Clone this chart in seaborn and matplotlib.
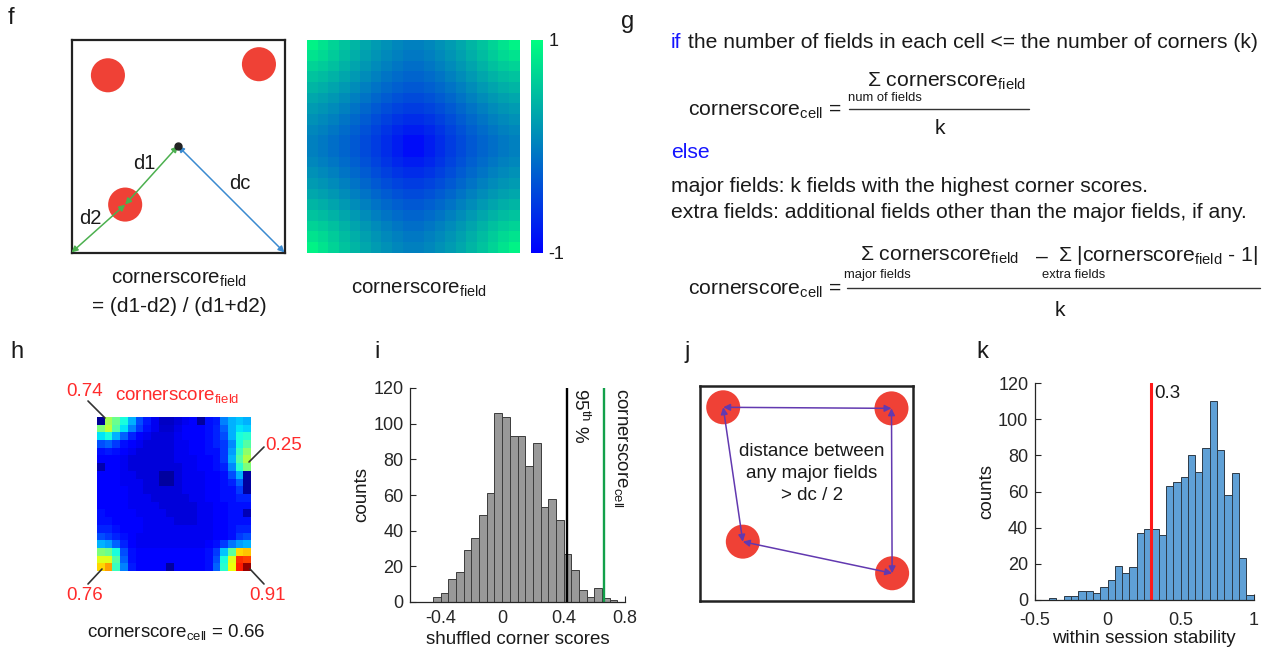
import numpy as np
import pandas as pd
import matplotlib
matplotlib.use("Agg")
import matplotlib.pyplot as plt
import seaborn as sns
from matplotlib.patches import Ellipse

sns.set_style("white")
plt.rcParams["font.family"] = ["Liberation Sans", "DejaVu Sans"]
plt.rcParams["mathtext.fontset"] = "custom"
plt.rcParams["mathtext.rm"] = "Liberation Sans"
plt.rcParams["mathtext.it"] = "Liberation Sans:italic"
plt.rcParams["mathtext.bf"] = "Liberation Sans:bold"
plt.rcParams["mathtext.default"] = "regular"
plt.rcParams["axes.unicode_minus"] = False

# ---------------- data ----------------
# panel f: schematic field positions (axes fraction) and corner-score map size
f_field_x = [0.171, 0.880, 0.252]
f_field_y = [0.832, 0.884, 0.225]
f_center = (0.5, 0.5)
f_grid_n = 20

# panel h: example rate map (jet scale 0-100)
h_map = [
    [2, 55, 48, 38, 30, 20, 15, 10, 6, 6, 8, 10, 12, 3, 14, 15, 25, 30, 32, 30],
    [50, 58, 45, 35, 25, 18, 14, 10, 7, 7, 9, 12, 12, 12, 14, 16, 22, 30, 35, 33],
    [35, 38, 30, 22, 16, 12, 10, 8, 8, 8, 10, 12, 12, 12, 14, 16, 20, 30, 38, 40],
    [20, 22, 18, 14, 12, 10, 8, 8, 8, 8, 10, 10, 12, 12, 14, 16, 18, 26, 38, 45],
    [14, 15, 14, 12, 10, 8, 8, 8, 8, 8, 10, 10, 12, 12, 14, 14, 18, 28, 42, 52],
    [12, 12, 12, 10, 8, 8, 8, 8, 8, 8, 10, 10, 10, 12, 12, 14, 18, 30, 45, 56],
    [4, 12, 12, 10, 8, 8, 8, 8, 8, 8, 8, 10, 10, 12, 12, 14, 16, 26, 40, 50],
    [12, 12, 12, 10, 10, 8, 8, 8, 3, 3, 8, 10, 10, 10, 12, 12, 14, 20, 30, 3],
    [12, 12, 12, 10, 10, 10, 8, 8, 3, 3, 8, 10, 10, 10, 12, 12, 14, 16, 22, 3],
    [12, 12, 12, 12, 10, 10, 8, 8, 8, 8, 8, 10, 10, 10, 12, 12, 14, 14, 18, 3],
    [12, 12, 12, 12, 10, 10, 10, 8, 8, 8, 8, 8, 10, 10, 12, 12, 14, 14, 16, 16],
    [12, 12, 12, 12, 10, 10, 10, 10, 8, 8, 8, 8, 8, 10, 10, 12, 12, 14, 14, 14],
    [14, 12, 12, 12, 12, 10, 10, 10, 10, 8, 8, 8, 8, 10, 10, 12, 12, 14, 14, 5],
    [14, 14, 12, 12, 12, 12, 10, 10, 10, 10, 8, 8, 8, 10, 10, 12, 12, 14, 14, 14],
    [16, 16, 14, 12, 12, 12, 10, 10, 10, 10, 10, 10, 10, 10, 10, 12, 12, 14, 16, 16],
    [20, 18, 16, 14, 12, 10, 10, 10, 10, 10, 10, 10, 10, 10, 10, 12, 12, 14, 18, 20],
    [30, 28, 22, 16, 12, 10, 10, 10, 10, 10, 10, 10, 10, 10, 12, 14, 18, 24, 28, 30],
    [50, 48, 38, 20, 14, 12, 12, 12, 12, 12, 12, 12, 12, 12, 14, 18, 32, 46, 68, 70],
    [62, 62, 45, 22, 14, 12, 12, 12, 12, 12, 12, 12, 12, 12, 14, 20, 38, 62, 86, 84],
    [68, 74, 42, 25, 15, 12, 12, 12, 12, 3, 12, 12, 12, 12, 14, 22, 40, 64, 88, 98],
]
h_labels = ["0.74", "0.25", "0.76", "0.91"]

# panel i: shuffled corner scores histogram
i_bin_start = -0.45
i_bin_width = 0.05
i_counts = [3, 5, 13, 17, 29, 36, 49, 61, 106, 104, 93, 93, 76, 89, 53, 58,
            46, 27, 18, 7, 3, 8, 2, 1]
i_pct95 = 0.42
i_cell_score = 0.66

# panel j: major field positions (axes fraction), order TL, TR, BR, BL
j_field_x = [0.109, 0.899, 0.902, 0.201]
j_field_y = [0.901, 0.896, 0.129, 0.276]

# panel k: within session stability histogram
k_bin_start = -0.40
k_bin_width = 0.05
k_counts = [1, 0, 2, 2, 5, 5, 4, 7, 11, 19, 15, 18, 37, 39, 39, 36, 63, 65, 68,
            80, 71, 84, 110, 83, 58, 70, 23, 3]
k_threshold = 0.3

# ---------------- figure ----------------
W, H = 1268, 649
fig = plt.figure(figsize=(W / 100, H / 100), dpi=100)


def px_axes(x0, y0, x1, y1):
    return fig.add_axes([x0 / W, 1 - y1 / H, (x1 - x0) / W, (y1 - y0) / H])


ov = fig.add_axes([0, 0, 1, 1], zorder=10)
ov.set_xlim(0, W)
ov.set_ylim(H, 0)
ov.axis("off")

RED = "#ef4136"
TXT = "#1a1a1a"
BLUE_T = "#1414ff"

# panel letters
for ch, (x, y) in zip("fghijk", [(8, 18), (621, 22), (10, 352), (374, 352),
                                 (684, 352), (976, 352)]):
    ov.text(x, y, ch, fontsize=17, va="center", ha="left", color=TXT)

# ---- panel f: schematic ----
axf = px_axes(71.5, 39.5, 284.5, 252.5)
axf.set_xlim(0, 1)
axf.set_ylim(0, 1)
axf.set_xticks([])
axf.set_yticks([])
for s in axf.spines.values():
    s.set_visible(True)
    s.set_linewidth(1.6)
    s.set_color("#222222")
for x, y in zip(f_field_x, f_field_y):
    axf.add_patch(Ellipse((x, y), 0.16, 0.16, color=RED, lw=0))
green = "#4cb04f"
blue = "#3b8ad0"
arr = dict(arrowstyle="<|-|>", lw=1.1, mutation_scale=9, shrinkA=0, shrinkB=0)
axf.annotate("", xy=(0.0, 0.0), xytext=(f_field_x[2], f_field_y[2]),
             arrowprops=dict(color=green, **arr))
axf.annotate("", xy=f_center, xytext=(f_field_x[2], f_field_y[2]),
             arrowprops=dict(color=green, **arr))
axf.annotate("", xy=(1.0, 0.0), xytext=f_center,
             arrowprops=dict(color=blue, **arr))
axf.plot(*f_center, "o", color="#222222", ms=5, zorder=5)
axf.text(0.344, 0.417, "d1", fontsize=14.5, ha="center", va="center", color=TXT)
axf.text(0.09, 0.16, "d2", fontsize=14.5, ha="center", va="center", color=TXT)
axf.text(0.79, 0.324, "dc", fontsize=14.5, ha="center", va="center", color=TXT)

ov.text(179, 279, r"cornerscore$_{field}$", fontsize=14.8, ha="center", va="center", color=TXT)
ov.text(179.5, 307, "= (d1-d2) / (d1+d2)", fontsize=15, ha="center", va="center", color=TXT)

# corner score map (the panel's own formula)
c = (np.arange(f_grid_n) + 0.5) / f_grid_n
gx, gy = np.meshgrid(c, c)
d1 = np.hypot(gx - f_center[0], gy - f_center[1])
d2 = np.minimum.reduce([np.hypot(gx - a, gy - b) for a in (0, 1) for b in (0, 1)])
f_map = (d1 - d2) / (d1 + d2)

axfm = px_axes(307, 39.5, 519.5, 252.5)
cax = px_axes(530.5, 39.5, 543, 252.5)
sns.heatmap(f_map, ax=axfm, cmap="winter", vmin=-1, vmax=1, cbar=True, cbar_ax=cax,
            cbar_kws=dict(ticks=[-1, 1]), xticklabels=False, yticklabels=False)
cax.tick_params(length=0, labelsize=13, pad=4, colors=TXT)
cbar = axfm.collections[0].colorbar
if cbar is not None:
    cbar.outline.set_visible(False)
ov.text(419, 289, r"cornerscore$_{field}$", fontsize=14.8, ha="center", va="center", color=TXT)

# ---- panel g: text ----
renderer = fig.canvas.get_renderer()
FS = 15.2
SFS = 9.4
t_if = ov.text(671, 43, "if", color=BLUE_T, fontsize=FS, va="center", ha="left")
wif = t_if.get_window_extent(renderer).width
ov.text(671 + wif, 43, " the number of fields in each cell <= the number of corners (k)",
        color=TXT, fontsize=FS, va="center", ha="left")
ov.text(688, 116, r"cornerscore$_{cell}$ =", fontsize=FS, va="baseline", ha="left", color=TXT)
ov.text(867, 87, r"Σ cornerscore$_{field}$", fontsize=FS, va="baseline", ha="left", color=TXT)
ov.text(885, 98, "num of fields", fontsize=SFS, va="center", ha="center", color=TXT)
ov.plot([849, 1029], [109, 109], color="#333333", lw=1)
ov.text(939.5, 128, "k", fontsize=FS, va="center", ha="center", color=TXT)
ov.text(671, 153, "else", color=BLUE_T, fontsize=FS, va="center", ha="left")
ov.text(671, 186, "major fields: k fields with the highest corner scores.",
        color=TXT, fontsize=FS, va="center", ha="left")
ov.text(671, 212, "extra fields: additional fields other than the major fields, if any.",
        color=TXT, fontsize=FS, va="center", ha="left")
ov.text(688, 295, r"cornerscore$_{cell}$ =", fontsize=FS, va="baseline", ha="left", color=TXT)
ov.text(860, 261, r"Σ cornerscore$_{field}$", fontsize=FS, va="baseline", ha="left", color=TXT)
ov.text(1042, 257, "–", fontsize=FS, va="center", ha="center", color=TXT)
ov.text(1058, 261, r"Σ |cornerscore$_{field}$ - 1|", fontsize=FS, va="baseline", ha="left", color=TXT)
ov.text(877, 275, "major fields", fontsize=SFS, va="center", ha="center", color=TXT)
ov.text(1074, 275, "extra fields", fontsize=SFS, va="center", ha="center", color=TXT)
ov.plot([847, 1260], [288, 288], color="#333333", lw=1)
ov.text(1060, 310, "k", fontsize=FS, va="center", ha="center", color=TXT)

# ---- panel h: rate map ----
axh = px_axes(97, 417, 251, 571)
sns.heatmap(np.array(h_map), ax=axh, cmap="jet", vmin=0, vmax=100, cbar=False,
            xticklabels=False, yticklabels=False)
HRED = "#ff2b2b"
h_pos = [(85, 391), (284, 446), (85, 595), (267, 595)]
h_lines = [((88, 401), (105, 418)), ((264, 447), (249, 462)),
           ((88, 584), (102, 569)), ((264, 584), (250, 569))]
for lab, (x, y), ((xa, ya), (xb, yb)) in zip(h_labels, h_pos, h_lines):
    ov.text(x, y, lab, color=HRED, fontsize=13.5, ha="center", va="center")
    ov.plot([xa, xb], [ya, yb], color="#333333", lw=1.2)
ov.text(177, 396, r"cornerscore$_{field}$", color=HRED, fontsize=13.5, ha="center", va="center")
ov.text(176, 632, r"cornerscore$_{cell}$ = 0.66", color=TXT, fontsize=13.5, ha="center", va="center")


def matlab_axes(ax, xlim, xticks, xlabels, xpad):
    ax.set_xlim(*xlim)
    ax.set_ylim(0, 120)
    ax.set_yticks(range(0, 121, 20))
    ax.set_xticks(xticks)
    ax.set_xticklabels(xlabels)
    for s in ("top", "right"):
        ax.spines[s].set_visible(False)
    for s in ("left", "bottom"):
        ax.spines[s].set_color("#262626")
        ax.spines[s].set_linewidth(0.9)
    ax.tick_params(direction="in", length=4, width=0.8, colors="#262626",
                   labelsize=13, left=True, bottom=True)
    ax.tick_params(axis="y", pad=4.5)
    ax.tick_params(axis="x", pad=xpad)


def hist_from_counts(ax, start, width, counts, color, edgecolor):
    edges = [start + width * k for k in range(len(counts) + 1)]
    df = pd.DataFrame({"value": [e + width / 2 for e in edges[:-1]],
                       "count": counts})
    sns.histplot(data=df, x="value", weights="count", bins=edges, ax=ax,
                 color=color, edgecolor=edgecolor, linewidth=0.7, alpha=1)


# ---- panel i: histogram ----
axi = px_axes(410, 388, 625, 602)
hist_from_counts(axi, i_bin_start, i_bin_width, i_counts, "#999999", "#3c3c3c")
axi.axvline(i_pct95, color="black", lw=1.7)
axi.axvline(i_cell_score, color="#12a04a", lw=1.7)
matlab_axes(axi, (-0.6, 0.8), [-0.4, 0, 0.4, 0.8], ["-0.4", "0", "0.4", "0.8"], 6)
axi.set_ylabel("counts", fontsize=13.5, color=TXT, labelpad=2)
axi.set_xlabel("shuffled corner scores", fontsize=13.5, color=TXT, labelpad=3)
axi.text(i_pct95 + 0.025, 120, r"95$^{th}$ %", rotation=270, ha="left", va="top",
         fontsize=13.5, color=TXT)
axi.text(i_cell_score + 0.055, 120, r"cornerscore$_{cell}$", rotation=270, ha="left",
         va="top", fontsize=13.5, color=TXT)

# ---- panel j: schematic ----
axj = px_axes(700, 386, 913, 601)
axj.set_xlim(0, 1)
axj.set_ylim(0, 1)
axj.set_xticks([])
axj.set_yticks([])
for s in axj.spines.values():
    s.set_visible(True)
    s.set_linewidth(1.8)
    s.set_color("#222222")
for x, y in zip(j_field_x, j_field_y):
    axj.add_patch(Ellipse((x, y), 34 / 213, 34 / 215, color=RED, lw=0))
purple = "#6239b0"
n = len(j_field_x)
for a in range(n):
    b = (a + 1) % n
    axj.annotate("", xy=(j_field_x[b], j_field_y[b]), xytext=(j_field_x[a], j_field_y[a]),
                 arrowprops=dict(arrowstyle="<|-|>", color=purple, lw=1.1,
                                 mutation_scale=10, shrinkA=0, shrinkB=0))
axj.text(0.525, 0.595, "distance between\nany major fields\n> dc / 2", ha="center",
         va="center", fontsize=13.5, color=TXT, linespacing=1.38)

# ---- panel k: histogram ----
axk = px_axes(1034.5, 383, 1253.5, 600)
hist_from_counts(axk, k_bin_start, k_bin_width, k_counts, "#5fa0d6", "#2e3a46")
axk.axvline(k_threshold, color="#ff1a1a", lw=2.2)
matlab_axes(axk, (-0.5, 1.0), [-0.5, 0, 0.5, 1], ["-0.5", "0", "0.5", "1"], 8.5)
axk.set_ylabel("counts", fontsize=13.5, color=TXT, labelpad=2)
axk.set_xlabel("within session stability", fontsize=13.5, color=TXT, labelpad=1)
axk.text(k_threshold + 0.02, 119, "0.3", ha="left", va="top", fontsize=13.5, color=TXT)

fig.savefig("out.png", dpi=100)
